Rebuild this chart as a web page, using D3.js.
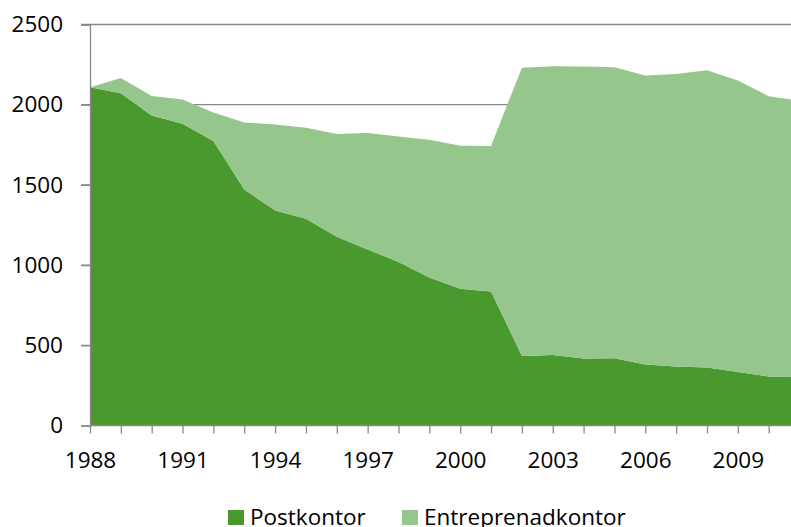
<!DOCTYPE html>
<html>
<head>
<meta charset="utf-8">
<script src="https://cdn.jsdelivr.net/npm/d3@7"></script>
<style>
  body { margin: 0; background: #fff; }
  text { font-family: "Open Sans", Lato, sans-serif; fill: #000; }
</style>
</head>
<body>
<div id="chart"></div>
<script>
// years shown (the last one runs past the right edge of the picture)
const years = d3.range(1988, 2012);
const postkontor = [2109, 2072, 1933, 1881, 1774, 1471, 1340, 1289, 1177, 1098, 1020, 922,
                    853, 836, 434, 440, 418, 420, 380, 368, 362, 333, 306, 300];
const entreprenad = [0, 95, 122, 151, 178, 418, 537, 567, 640, 725, 782, 860,
                     891, 907, 1797, 1800, 1820, 1814, 1802, 1824, 1853, 1818, 1747, 1724];
const seriesNames = ["Postkontor", "Entreprenadkontor"];
const colors = ["#4a992e", "#95c68b"];
const yTicks = [0, 500, 1000, 1500, 2000, 2500];
const xLabels = [1988, 1991, 1994, 1997, 2000, 2003, 2006, 2009];

const W = 791, H = 527;
const fontSize = "22.5px";
const svg = d3.select("#chart").append("svg")
    .attr("width", W)
    .attr("height", H);

const x = d3.scaleLinear().domain([1988, 2011]).range([90, 90 + 23 * 30.85]);
const y = d3.scaleLinear().domain([0, 2500]).range([425.5, 24.5]);

const table = years.map((yr, i) => ({year: yr, Postkontor: postkontor[i], Entreprenadkontor: entreprenad[i]}));
const stacked = d3.stack().keys(seriesNames)(table);

// gridlines
svg.append("g")
    .selectAll("line")
    .data(yTicks.filter(d => d > 0))
    .enter()
    .append("line")
    .attr("x1", 81)
    .attr("x2", W)
    .attr("y1", d => y(d))
    .attr("y2", d => y(d))
    .attr("stroke", "#888")
    .attr("stroke-width", 1.3);

const area = d3.area()
    .x(d => x(d.data.year))
    .y0(d => y(d[0]))
    .y1(d => y(d[1]));

svg.append("g")
    .selectAll("path")
    .data(stacked)
    .enter()
    .append("path")
    .attr("d", area)
    .attr("fill", (d, i) => colors[i]);

// y axis
const yAxis = svg.append("g")
    .attr("transform", "translate(90,0)")
    .call(d3.axisLeft(y).tickValues(yTicks).tickSize(9).tickPadding(18).tickFormat(d3.format("d")));
yAxis.select(".domain").attr("stroke", "#888").attr("stroke-width", 1.3);
yAxis.selectAll(".tick line").attr("stroke", "#888").attr("stroke-width", 1.3);
yAxis.selectAll("text").style("font-size", fontSize).attr("fill", "#000");

// x axis
const xAxis = svg.append("g")
    .attr("transform", `translate(0,${y(0)})`)
    .call(d3.axisBottom(x).tickValues(years).tickSize(8)
        .tickFormat(d => xLabels.includes(d) ? d : ""));
xAxis.select(".domain").attr("stroke", "#888").attr("stroke-width", 1.3)
    .attr("d", `M90,0H${W}`);
xAxis.selectAll(".tick line").attr("stroke", "#888").attr("stroke-width", 1.3);
xAxis.selectAll("text").style("font-size", fontSize).attr("fill", "#000")
    .attr("y", 42).attr("dy", null);

// legend
const legendX = [228, 402];
const legend = svg.append("g")
    .selectAll("g")
    .data(seriesNames)
    .enter()
    .append("g")
    .attr("transform", (d, i) => `translate(${legendX[i]},510)`);
legend.append("rect")
    .attr("width", 16)
    .attr("height", 15)
    .attr("fill", (d, i) => colors[i]);
legend.append("text")
    .attr("x", 22)
    .attr("y", 15)
    .style("font-size", fontSize)
    .text(d => d);
</script>
</body>
</html>
